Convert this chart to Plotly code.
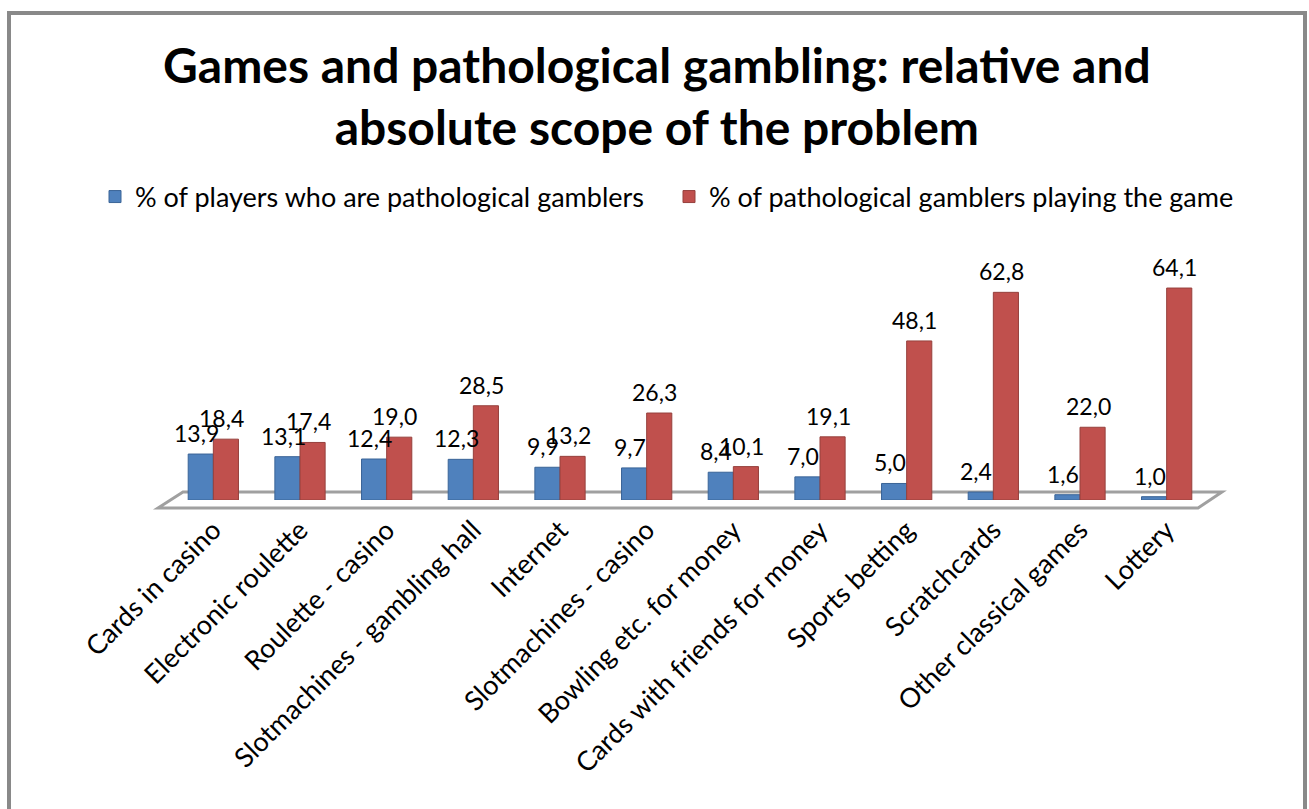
import plotly.graph_objects as go

categories = ["Cards in casino", "Electronic roulette", "Roulette - casino",
              "Slotmachines - gambling hall", "Internet", "Slotmachines - casino",
              "Bowling etc. for money", "Cards with friends for money", "Sports betting",
              "Scratchcards", "Other classical games", "Lottery"]
players_pct = [13.9, 13.1, 12.4, 12.3, 9.9, 9.7, 8.4, 7.0, 5.0, 2.4, 1.6, 1.0]
gamblers_pct = [18.4, 17.4, 19.0, 28.5, 13.2, 26.3, 10.1, 19.1, 48.1, 62.8, 22.0, 64.1]
series_names = ["% of players who are pathological gamblers",
                "% of pathological gamblers playing the game"]
title_text = "Games and pathological gambling: relative and<br>absolute scope of the problem"

BLUE = "#4F81BD"
RED = "#C0504D"
FONT = "Lato"

W, H = 1309, 809
ML, MR, MT, MB = 170, 99, 252, 309
PW = W - ML - MR
PH = H - MT - MB


def px2paper(px, py):
    return (px - ML) / PW, (H - MB - py) / PH


fig = go.Figure()
fig.add_trace(go.Bar(x=categories, y=players_pct, name=series_names[0],
                     marker=dict(color=BLUE, line=dict(color="#3A6497", width=1))))
fig.add_trace(go.Bar(x=categories, y=gamblers_pct, name=series_names[1],
                     marker=dict(color=RED, line=dict(color="#96403D", width=1))))

annotations = []
for c, v in zip(categories, players_pct):
    annotations.append(dict(x=c, y=v, text=f"{v:.1f}".replace(".", ","), showarrow=False,
                            xshift=-17, yshift=21, font=dict(family=FONT, size=23, color="black")))
for c, v in zip(categories, gamblers_pct):
    annotations.append(dict(x=c, y=v, text=f"{v:.1f}".replace(".", ","), showarrow=False,
                            xshift=8, yshift=21, font=dict(family=FONT, size=23, color="black")))

tx, ty = px2paper(657, 96)
annotations.append(dict(x=tx, y=ty, xref="paper", yref="paper", text=title_text,
                        showarrow=False, xanchor="center", yanchor="middle",
                        font=dict(family=FONT, size=48, color="black", weight="bold")))

# floor parallelogram
pts = [px2paper(158, 508), px2paper(183, 492), px2paper(1222, 492), px2paper(1198, 508)]
path = "M " + " L ".join(f"{x:.4f},{y:.4f}" for x, y in pts) + " Z"
# frame
fx0, fy0 = px2paper(9, 13)
fx1, fy1 = px2paper(1305, 830)

lx, ly = px2paper(95, 197)

fig.update_layout(
    width=W, height=H,
    margin=dict(l=ML, r=MR, t=MT, b=MB, autoexpand=False),
    paper_bgcolor="white", plot_bgcolor="rgba(0,0,0,0)",
    barmode="group", bargap=0.42, bargroupgap=0,
    separators=",.",
    font=dict(family=FONT, color="black"),
    legend=dict(orientation="h", x=lx, xanchor="left", y=ly, yanchor="middle",
                font=dict(family=FONT, size=27, color="black"),
                itemwidth=30, entrywidth=529, bgcolor="rgba(0,0,0,0)"),
    xaxis=dict(tickangle=-45, showline=False, ticks="", showgrid=False,
               tickfont=dict(family=FONT, size=27, color="black"),
               ticklabelstandoff=8),
    yaxis=dict(range=[0, 75], visible=False, showgrid=False),
    annotations=annotations,
    shapes=[
        dict(type="path", path=path, xref="paper", yref="paper", layer="below",
             line=dict(color="#A0A0A0", width=3), fillcolor="white"),
        dict(type="rect", xref="paper", yref="paper", x0=fx0, y0=fy0, x1=fx1, y1=fy1,
             line=dict(color="#898989", width=4), fillcolor="rgba(0,0,0,0)", layer="below"),
    ],
)

fig.write_html("out.html")
